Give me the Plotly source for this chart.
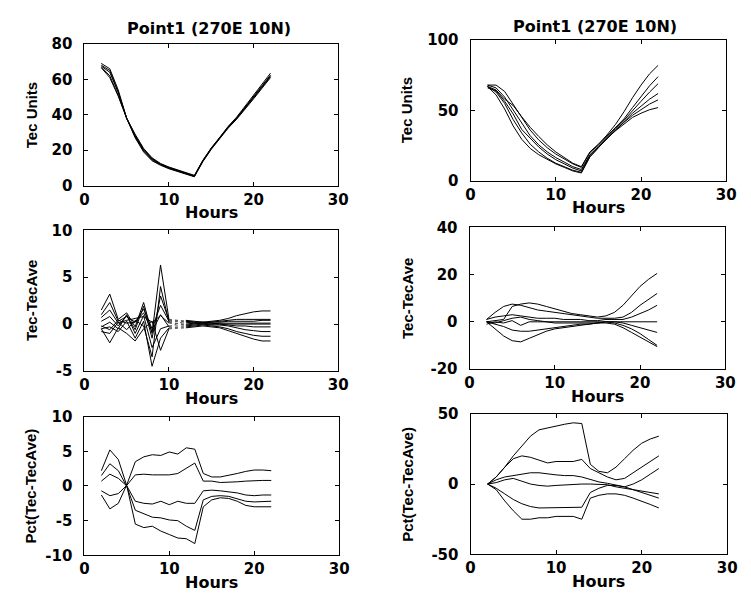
import plotly.graph_objects as go

# Hour of day for every sample
hours = list(range(2, 23))

# ---- Left column -------------------------------------------------------
tec_left = [
    [69, 66, 54, 38, 27, 19, 14, 11.5, 9.5, 8, 6.5, 5, 13.5, 20.5, 26.5, 32.5, 37.5, 43, 49, 55, 61],
    [68, 65, 53, 38, 27.5, 19.5, 14.5, 11.8, 9.8, 8.2, 6.8, 5.2, 13.8, 20.8, 26.8, 32.8, 37.8, 43.5, 49.5, 55.5, 61.5],
    [67.5, 64, 52.5, 38, 28, 20, 15, 12, 10, 8.5, 7, 5.3, 14, 21, 27, 33, 38, 44, 50, 56, 62],
    [67, 62, 51, 38, 28.5, 20.5, 15.3, 12.2, 10.2, 8.7, 7.2, 5.5, 14.1, 21.1, 27.1, 33.2, 38.3, 44.3, 50.5, 56.5, 62.5],
    [66.5, 61, 50.5, 38, 29, 21, 15.7, 12.5, 10.5, 8.9, 7.4, 5.8, 14.3, 21.3, 27.3, 33.5, 38.7, 44.8, 51, 57, 63.5],
]

# Hour 11 is missing in the difference series (None)
diff_left = [
    [1.5, 3.2, 0.5, 1.2, -0.3, 2.3, -1.0, 6.3, 0.5, None, 0.3, 0.2, 0.2, 0.3, 0.4, 0.6, 0.9, 1.1, 1.3, 1.4, 1.4],
    [1.0, 2.3, 0.3, 0.8, 0.2, 1.6, -0.5, 2.0, 0.3, None, 0.2, 0.1, 0.1, 0.2, 0.3, 0.4, 0.5, 0.5, 0.5, 0.5, 0.5],
    [0.7, 1.5, 0.1, 0.4, 0.6, 0.8, 0.2, 0.9, 0.1, None, 0.0, 0.1, 0.0, 0.0, 0.1, 0.1, 0.1, 0.1, 0.1, 0.1, 0.1],
    [0.3, 0.8, -0.2, 0.9, -0.6, 1.9, -1.5, 3.0, 0.4, None, 0.3, 0.2, 0.2, 0.2, 0.2, 0.3, 0.3, 0.3, 0.3, 0.4, 0.4],
    [-0.3, 0.2, -0.5, 1.0, -1.0, 0.9, -2.5, -0.5, -0.2, None, -0.2, -0.1, 0.0, -0.1, -0.1, -0.2, -0.4, -0.6, -0.7, -0.8, -0.8],
    [-0.5, -0.3, -0.8, 0.3, -1.5, 0.3, -4.5, -1.5, -0.4, None, -0.3, -0.2, -0.1, -0.2, -0.3, -0.5, -0.8, -1.0, -1.2, -1.3, -1.3],
    [-0.5, -2.0, -0.4, -1.0, -1.8, -0.5, 0.3, -2.8, -0.5, None, -0.4, -0.3, -0.2, -0.3, -0.4, -0.7, -1.0, -1.3, -1.6, -1.8, -1.8],
    [-0.8, -1.0, 0.2, -0.6, 0.4, -0.2, -3.5, 4.0, 0.2, None, -0.1, 0.0, 0.1, 0.0, 0.0, -0.1, -0.2, -0.2, -0.3, -0.3, -0.3],
    [-0.2, -0.6, 0.4, 0.1, 0.2, 1.2, -0.8, 1.0, -0.3, None, 0.4, 0.3, 0.2, 0.1, 0.0, 0.0, 0.0, 0.0, 0.0, 0.0, 0.0],
]

pct_left = [
    [2.2, 5.2, 3.8, 0.0, -5.5, -6.0, -5.8, -6.5, -7.0, -7.5, -7.6, -8.3, -3.0, -2.0, -1.7, -1.8, -2.2, -2.8, -3.0, -3.0, -3.0],
    [1.5, 3.2, 2.2, -0.1, -3.5, -4.0, -4.5, -4.6, -4.9, -5.0, -5.8, -6.4, -2.0, -1.5, -1.4, -1.5, -1.8, -2.2, -2.3, -2.3, -2.2],
    [0.7, 1.7, 1.1, 0.0, -2.2, -2.5, -2.6, -2.2, -2.7, -2.2, -2.5, -2.5, -0.7, -0.6, -0.7, -0.8, -1.0, -1.3, -1.4, -1.3, -1.3],
    [-0.7, -1.4, -1.1, 0.1, 1.6, 1.7, 1.6, 1.6, 1.6, 1.8, 2.5, 3.3, 0.7, 0.7, 0.5, 0.5, 0.6, 0.7, 0.8, 0.8, 0.8],
    [-1.3, -3.3, -2.5, 0.2, 3.5, 4.2, 4.5, 4.4, 4.9, 4.6, 5.5, 5.3, 1.8, 1.3, 1.3, 1.5, 1.8, 2.1, 2.3, 2.3, 2.2],
]

# ---- Right column ------------------------------------------------------
tec_right = [
    [67, 64.5, 58, 53.5, 45.5, 38, 31.5, 25.5, 20.5, 16.5, 12.5, 10, 20.5, 26, 32.5, 40, 49, 59, 68, 76, 82],
    [68, 68, 63.5, 54.5, 45, 36, 29, 23.5, 19, 15.5, 12, 9.5, 20, 25.5, 31.5, 37.5, 44, 52, 60, 67.5, 74],
    [68, 66, 59.5, 50, 40.5, 32, 25.5, 20.5, 16.5, 13, 10, 8, 18.5, 24.5, 31, 37, 43, 50, 56.5, 63, 69],
    [66, 64, 56.5, 47.5, 36.5, 30, 24, 19, 15, 12, 9, 7, 18, 24, 30, 36, 42, 48, 53, 58, 62],
    [67, 63, 55, 43.5, 34, 26, 20.5, 16, 12.5, 10, 7.5, 6, 17, 23.5, 30, 36, 41.5, 46.5, 50.5, 54.5, 57.5],
    [67, 61, 51, 39, 29.5, 23, 18.5, 15, 12, 9.5, 7, 5.5, 17, 23.5, 30, 35.5, 40.5, 45, 48, 50.5, 52],
]

diff_right = [
    [0, 0.5, 1, 6.5, 7.5, 8, 7.5, 6.5, 5.5, 4.5, 3.5, 3, 2.5, 2, 2.5, 4, 7, 11, 15, 18, 20.5],
    [1, 4, 6.5, 7.5, 7, 6, 5, 4.5, 4, 3.5, 3, 2.5, 2, 1.5, 1.5, 1.5, 2, 4, 7, 9.5, 12],
    [1, 2, 2.5, 3, 2.5, 2, 1.5, 1.5, 1.5, 1, 1, 1, 0.5, 0.5, 1, 1, 1, 2, 3.5, 5, 7],
    [-1, 0, -0.5, 0.5, -1.5, 0, 0, 0, 0, 0, 0, 0, 0, 0, 0, 0, 0, 0, 0, 0, 0],
    [0, -1, -2, -3.5, -4, -4, -3.5, -3, -2.5, -2, -1.5, -1, -1, -0.5, 0, 0, -0.5, -1.5, -2.5, -3.5, -4.5],
    [0, -3, -6, -8, -8.5, -7, -5.5, -4, -3, -2.5, -2, -1.5, -1, -0.5, 0, -0.5, -1.5, -3, -5, -7.5, -10],
    [0, -0.5, 0.5, 1.5, 2, 1, 0.5, 0, -0.5, -0.5, -0.5, -0.5, -0.5, -0.5, -0.5, -1, -2.5, -4.5, -6.5, -8.5, -10.5],
]

pct_right = [
    [0, 5, 12, 20, 27, 34, 38.5, 40, 41, 42.5, 43.5, 43, 14, 9, 8, 12, 18, 24, 29, 32, 34],
    [0, 5, 12, 18, 20, 19, 17, 15, 16, 16, 16, 17.5, 11, 8, 5, 3, 4, 8, 12, 16, 20],
    [0, 3, 5, 6, 7, 8, 8, 7, 6.5, 6, 6, 5, 3, 1.5, 0.5, -1, -2, 0, 3, 7, 11],
    [0, 1, 3, 4, 2, 0, -1, -1.5, -1, -0.5, 0, 0, 0, 0, -0.5, -2, -3, -4.5, -5.5, -6.5, -7],
    [0, -3, -7, -11, -14, -16, -17, -17, -17, -17, -17, -16.5, -6, -3, -1, -1, -2, -4, -6, -8, -10],
    [0, -4, -12, -19, -25, -25, -24, -24, -23, -23, -23, -25, -10, -8, -7, -7, -8, -10, -12, -14.5, -17],
]

title_text = "Point1 (270E 10N)"
x_ticks = [0, 10, 20, 30]

W, H = 751, 609

# pixel boxes of the six panels: (left, right, top, bottom)
boxes = {
    1: (81, 340, 36, 182),
    2: (475, 736, 32, 177),
    3: (81, 340, 228, 373),
    4: (474, 735, 225, 371),
    5: (81, 341, 420, 563),
    6: (475, 737, 417, 562),
}

panels = [
    # id, data, y range, y ticks, y title
    (1, tec_left, [0, 80], [0, 20, 40, 60, 80], "Tec Units"),
    (2, tec_right, [0, 100], [0, 50, 100], "Tec Units"),
    (3, diff_left, [-5, 10], [-5, 0, 5, 10], "Tec-TecAve"),
    (4, diff_right, [-20, 40], [-20, 0, 20, 40], "Tec-TecAve"),
    (5, pct_left, [-10, 10], [-10, -5, 0, 5, 10], "Pct(Tec-TecAve)"),
    (6, pct_right, [-50, 50], [-50, 0, 50], "Pct(Tec-TecAve)"),
]

TICK_FONT = dict(family="DejaVu Sans", size=15, color="black", weight="bold")
LABEL_FONT = dict(family="DejaVu Sans", size=16, color="black", weight="bold")
YLABEL_FONT = dict(family="Liberation Sans", size=15, color="black", weight="bold")

fig = go.Figure()
annotations = []

for pid, data, yr, yt, ytitle in panels:
    xa = "x" if pid == 1 else f"x{pid}"
    ya = "y" if pid == 1 else f"y{pid}"
    for series in data:
        fig.add_trace(go.Scatter(
            x=hours, y=series, mode="lines", xaxis=xa, yaxis=ya,
            line=dict(color="black", width=1), connectgaps=False,
            showlegend=False, hoverinfo="skip"))
        if None in series:
            # faint dotted link across the missing hour
            i = series.index(None)
            fig.add_trace(go.Scatter(
                x=[hours[i - 1], hours[i + 1]], y=[series[i - 1], series[i + 1]],
                mode="lines", xaxis=xa, yaxis=ya,
                line=dict(color="#555555", width=1, dash="dot"),
                showlegend=False, hoverinfo="skip"))

    l, r, t, b = boxes[pid]
    key = "" if pid == 1 else str(pid)
    fig.layout[f"xaxis{key}"] = dict(
        domain=[l / W, r / W], range=[0, 30], tickvals=x_ticks,
        ticktext=[str(v) for v in x_ticks],
        anchor=ya, showline=True, mirror="ticks", linecolor="black", linewidth=1,
        ticks="inside", ticklen=4, tickcolor="black", showgrid=False,
        zeroline=False, tickfont=TICK_FONT, ticklabelstandoff=0)
    fig.layout[f"yaxis{key}"] = dict(
        domain=[1 - b / H, 1 - t / H], range=yr, tickvals=yt,
        ticktext=[str(v) for v in yt],  # plain hyphen for negatives
        anchor=xa, showline=True, mirror="ticks", linecolor="black", linewidth=1,
        ticks="inside", ticklen=4, tickcolor="black", showgrid=False,
        zeroline=False, tickfont=TICK_FONT, ticklabelstandoff=8)

    # "Hours" under each panel
    annotations.append(dict(
        text="Hours", x=(l + r) / 2 / W, y=1 - (b + 28) / H, xref="paper", yref="paper",
        xanchor="center", yanchor="middle", showarrow=False, font=LABEL_FONT))
    # vertical axis title
    yx = 27 if l < 200 else 410
    annotations.append(dict(
        text=ytitle, x=yx / W, y=1 - (t + b) / 2 / H, xref="paper", yref="paper",
        xanchor="center", yanchor="middle", textangle=-90, showarrow=False,
        font=YLABEL_FONT))

# titles above the top row
annotations.append(dict(text=title_text, x=208 / W, y=1 - 20 / H, xref="paper", yref="paper",
                        xanchor="center", yanchor="middle", showarrow=False, font=LABEL_FONT))
annotations.append(dict(text=title_text, x=602 / W, y=1 - 18 / H, xref="paper", yref="paper",
                        xanchor="center", yanchor="middle", showarrow=False, font=LABEL_FONT))

fig.update_layout(
    width=W, height=H, margin=dict(l=0, r=0, t=0, b=0),
    paper_bgcolor="white", plot_bgcolor="white",
    annotations=annotations, showlegend=False)

fig.write_html("out.html")
